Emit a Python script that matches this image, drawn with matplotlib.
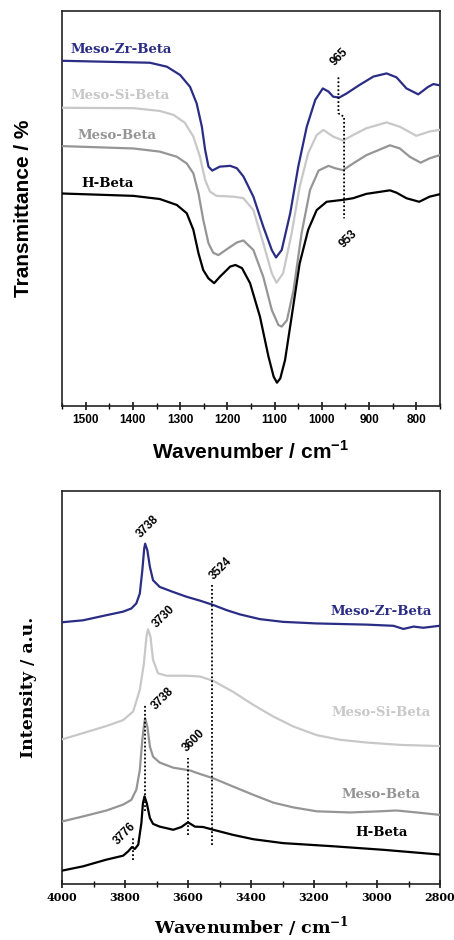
import matplotlib
matplotlib.use("Agg")
import matplotlib.pyplot as plt
from matplotlib.ticker import MultipleLocator

# ---------------- FT-IR framework region (top) ----------------
ir_wn = {
    "Meso-Zr-Beta": [1550, 1364, 1328, 1300, 1279, 1265, 1254, 1247, 1240, 1232, 1216, 1194, 1180, 1166,
                     1145, 1124, 1106, 1097, 1085, 1067, 1050, 1032, 1014, 998, 986, 976, 963, 948,
                     920, 891, 863, 842, 821, 796, 775, 764, 751],
    "Meso-Si-Beta": [1550, 1399, 1343, 1314, 1290, 1272, 1258, 1247, 1237, 1223, 1187, 1166, 1145, 1124,
                     1106, 1096, 1082, 1064, 1047, 1029, 1011, 997, 976, 955, 934, 906, 863, 835,
                     800, 772, 751],
    "Meso-Beta": [1550, 1399, 1343, 1307, 1286, 1272, 1261, 1251, 1240, 1230, 1219, 1201, 1180, 1166,
                  1145, 1124, 1106, 1092, 1085, 1074, 1060, 1043, 1025, 1007, 986, 972, 955, 934,
                  906, 856, 835, 814, 791, 772, 751],
    "H-Beta": [1550, 1399, 1343, 1307, 1286, 1272, 1261, 1251, 1240, 1228, 1216, 1194, 1183, 1169,
               1152, 1131, 1113, 1102, 1095, 1088, 1078, 1064, 1047, 1029, 1011, 990, 955, 934,
               906, 856, 842, 821, 794, 772, 751],
}
ir_t = {
    "Meso-Zr-Beta": [87.4, 86.9, 85.9, 83.8, 80.8, 76.6, 70.7, 64.8, 60.6, 59.6, 60.6, 60.8, 60.2, 58.1,
                     53.0, 45.4, 39.5, 37.6, 39.5, 48.8, 60.6, 70.7, 77.5, 80.4, 79.6, 78.3, 78.1, 79.1,
                     81.3, 83.4, 84.2, 83.2, 80.4, 78.9, 80.8, 81.5, 81.2],
    "Meso-Si-Beta": [75.5, 75.4, 74.7, 73.7, 71.7, 68.2, 63.1, 57.2, 54.3, 53.2, 53.0, 52.6, 49.6, 41.2,
                     33.6, 31.2, 33.6, 43.7, 55.5, 64.0, 68.6, 69.9, 68.2, 67.2, 68.6, 70.3, 71.8, 70.7,
                     68.4, 69.5, 69.9],
    "Meso-Beta": [65.8, 65.2, 64.4, 63.1, 61.4, 58.9, 53.8, 47.1, 41.2, 38.8, 38.2, 39.7, 41.4, 41.9,
                  39.5, 32.7, 24.3, 20.5, 20.1, 21.7, 29.3, 43.7, 54.7, 59.6, 60.8, 60.2, 59.7, 61.4,
                  63.5, 66.0, 65.2, 63.1, 61.6, 62.7, 63.5],
    "H-Beta": [53.8, 53.2, 52.4, 50.9, 48.8, 44.6, 38.6, 34.4, 32.3, 31.1, 32.7, 35.3, 35.7, 34.9,
               31.1, 22.6, 12.5, 7.4, 5.9, 7.0, 11.6, 22.6, 36.1, 44.6, 49.6, 51.7, 52.2, 52.6,
               53.7, 54.6, 54.0, 52.6, 51.7, 53.0, 53.6],
}
ir_label_pos = {"Meso-Zr-Beta": (1533, 90.3), "Meso-Si-Beta": (1531, 78.6),
                "Meso-Beta": (1518, 68.4), "H-Beta": (1510, 56.4)}
ir_marks = [965, 953]
ir_ticks = [1500, 1400, 1300, 1200, 1100, 1000, 900, 800]

# ---------------- OH stretching region (bottom) ----------------
oh_wn = {
    "Meso-Zr-Beta": [4000, 3933, 3859, 3806, 3780, 3764, 3753, 3745, 3739, 3736, 3729, 3721, 3711, 3690,
                     3647, 3605, 3562, 3520, 3478, 3435, 3372, 3298, 3192, 3033, 2948, 2916, 2884,
                     2853, 2802],
    "Meso-Si-Beta": [4000, 3933, 3859, 3806, 3774, 3753, 3740, 3732, 3727, 3719, 3711, 3695, 3668, 3605,
                     3562, 3520, 3457, 3393, 3329, 3266, 3192, 3118, 3033, 2927, 2802],
    "Meso-Beta": [4000, 3933, 3859, 3806, 3780, 3764, 3753, 3745, 3739, 3736, 3729, 3721, 3711, 3690,
                  3647, 3594, 3562, 3520, 3457, 3393, 3329, 3266, 3192, 3086, 2990, 2938, 2874, 2802],
    "H-Beta": [4000, 3933, 3859, 3806, 3790, 3778, 3769, 3758, 3748, 3743, 3738, 3731, 3721, 3711,
               3690, 3668, 3647, 3621, 3600, 3578, 3552, 3520, 3457, 3393, 3298, 3139, 2980, 2802],
}
oh_i = {
    "Meso-Zr-Beta": [66.6, 67.1, 68.4, 69.3, 70.1, 71.4, 73.9, 79.8, 85.4, 86.6, 84.9, 80.7, 77.3, 75.6,
                     74.3, 73.1, 72.1, 71.0, 69.7, 68.6, 67.4, 66.7, 66.3, 66.0, 65.7, 64.9, 65.5,
                     65.2, 65.7],
    "Meso-Si-Beta": [36.8, 38.4, 40.2, 41.7, 43.9, 49.4, 56.1, 62.9, 64.8, 62.9, 57.0, 53.6, 53.0, 53.0,
                     52.8, 51.7, 48.9, 45.6, 42.6, 40.1, 37.9, 36.7, 36.0, 35.4, 35.1],
    "Meso-Beta": [15.9, 17.2, 18.7, 20.2, 21.4, 24.0, 29.0, 36.7, 40.9, 42.2, 40.0, 35.0, 32.4, 30.9,
                  29.6, 28.9, 28.0, 26.9, 24.8, 22.7, 20.7, 19.5, 18.5, 18.2, 18.5, 18.7, 18.2, 17.6],
    "H-Beta": [3.4, 4.5, 6.2, 7.2, 8.3, 9.4, 8.9, 10.0, 15.5, 20.6, 22.3, 20.6, 16.8, 15.3,
               14.6, 14.2, 13.8, 14.5, 15.7, 14.6, 14.5, 13.8, 12.5, 11.4, 10.4, 9.6, 8.7, 7.5],
}
oh_label_pos = {"Meso-Zr-Beta": 69.3, "Meso-Si-Beta": 43.7, "Meso-Beta": 22.9, "H-Beta": 13.0}
oh_label_wn = 2987
# (band position, dotted line bottom, dotted line top)
oh_marks = [(3524, 9.8, 76.3), (3738, 18.5, 45.6), (3600, 12.4, 32.0), (3776, 6.2, 11.7)]
# (text, wavenumber, height) of rotated band labels
oh_notes = [("3738", 3742, 87.5), ("3524", 3512, 76.7), ("3730", 3693, 64.7),
            ("3738", 3695, 43.7), ("3600", 3596, 33.0), ("3776", 3817, 9.5)]
oh_ticks = [4000, 3800, 3600, 3400, 3200, 3000, 2800]

colors = {"Meso-Zr-Beta": "#2b2d85", "Meso-Si-Beta": "#c8c8c8",
          "Meso-Beta": "#959595", "H-Beta": "#000000"}
order = ["Meso-Zr-Beta", "Meso-Si-Beta", "Meso-Beta", "H-Beta"]

fig = plt.figure(figsize=(4.54, 9.40), dpi=100)
ax1 = fig.add_axes([62 / 454, 1 - 406 / 940, 378 / 454, 395 / 940])
ax2 = fig.add_axes([62 / 454, 1 - 884 / 940, 378 / 454, 393 / 940])

serif = ["DejaVu Serif"]
sans = ["Liberation Sans", "DejaVu Sans"]

for ax in (ax1, ax2):
    for s in ax.spines.values():
        s.set_linewidth(1.2)
        s.set_color("#222222")
    ax.set_yticks([])
    ax.tick_params(axis="x", which="major", direction="inout", length=6, width=1.1, pad=3)
    ax.tick_params(axis="x", which="minor", direction="inout", length=4, width=1.0)

# top panel
for name in order:
    ax1.plot(ir_wn[name], ir_t[name], color=colors[name], lw=1.6, zorder=3)
    x, y = ir_label_pos[name]
    ax1.text(x, y, name, color=colors[name], fontsize=9.5, fontweight="bold",
             family=serif, ha="left", va="center")
ax1.plot([ir_marks[0], ir_marks[0], ir_marks[1], ir_marks[1]], [83.2, 74.1, 73.2, 47.5],
         color="black", lw=1.3, ls=(0, (1, 1.2)), zorder=4)
ax1.text(ir_marks[0] + 4, 85.5, str(ir_marks[0]), rotation=45, fontsize=8.5, fontweight="bold",
         family=sans, ha="left", va="bottom", rotation_mode="anchor")
ax1.text(ir_marks[1] - 3, 39.5, str(ir_marks[1]), rotation=45, fontsize=8.5, fontweight="bold",
         family=sans, ha="left", va="bottom", rotation_mode="anchor")
ax1.set_xlim(1550, 750)
ax1.set_ylim(0, 100)
ax1.set_xticks(ir_ticks)
ax1.xaxis.set_minor_locator(MultipleLocator(50))
for lab in ax1.get_xticklabels():
    lab.set_family(sans)
    lab.set_fontsize(8.5)
    lab.set_fontweight("bold")
ax1.set_xlabel("Wavenumber / cm$^{\\mathregular{-1}}$", family=sans, fontsize=15,
               fontweight="bold", labelpad=10)
ax1.set_ylabel("Transmittance / %", family=sans, fontsize=15, fontweight="bold", labelpad=21)

# bottom panel
for name in order:
    ax2.plot(oh_wn[name], oh_i[name], color=colors[name], lw=1.6, zorder=3)
    ax2.text(oh_label_wn, oh_label_pos[name], name, color=colors[name], fontsize=9.5,
             fontweight="bold", family=serif, ha="center", va="center")
for wn, y0, y1 in oh_marks:
    ax2.plot([wn, wn], [y0, y1], color="black", lw=1.3, ls=(0, (1, 1.2)), zorder=4)
for txt, wn, y in oh_notes:
    ax2.text(wn, y, txt, rotation=45, fontsize=8.5, fontweight="bold", family=sans,
             ha="left", va="bottom", rotation_mode="anchor")
ax2.set_xlim(4000, 2800)
ax2.set_ylim(0, 100)
ax2.set_xticks(oh_ticks)
ax2.xaxis.set_minor_locator(MultipleLocator(100))
for lab in ax2.get_xticklabels():
    lab.set_family(serif)
    lab.set_fontsize(8)
    lab.set_fontweight("bold")
ax2.set_xlabel("Wavenumber / cm$^{\\mathregular{-1}}$", family=serif, fontsize=12.5,
               fontweight="bold", labelpad=8)
ax2.set_ylabel("Intensity / a.u.", family=serif, fontsize=12.5, fontweight="bold", labelpad=18)

fig.savefig("out.png", dpi=100)
